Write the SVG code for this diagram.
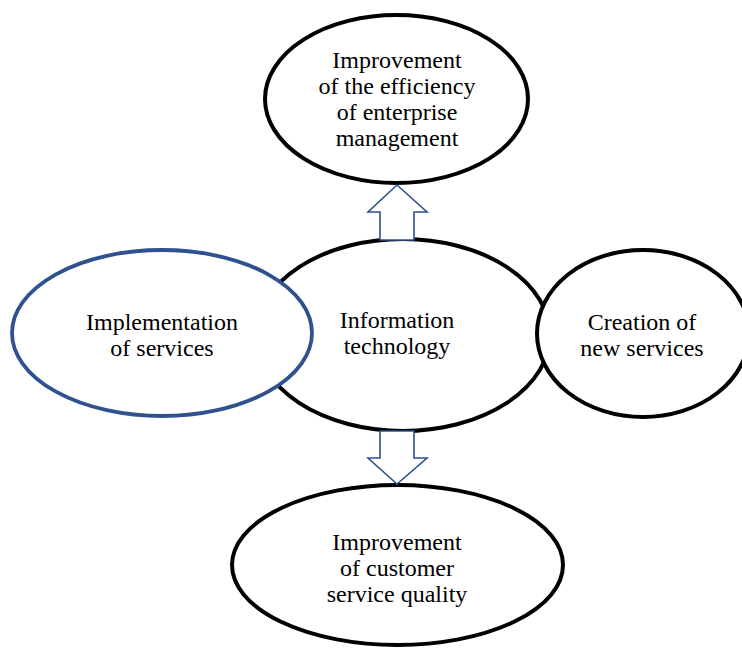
<svg xmlns="http://www.w3.org/2000/svg" width="742" height="649" viewBox="0 0 742 649">
  <style>
    .node { fill: #ffffff; stroke: #000000; stroke-width: 4; }
    .blue { fill: #ffffff; stroke: #2F528F; stroke-width: 3.8; }
    .arrow { fill: #ffffff; stroke: #2F528F; stroke-width: 1.6; stroke-linejoin: miter; }
    text { font-family: "Liberation Serif", "Times New Roman", serif; font-size: 24px; fill: #000000; text-anchor: middle; }
  </style>
  <rect x="0" y="0" width="742" height="649" fill="#ffffff"/>
  <g id="node-it">
    <ellipse class="node" cx="403" cy="335" rx="147" ry="96"/>
  </g>
  <g id="node-implementation">
    <ellipse class="blue" cx="162" cy="333" rx="150" ry="83"/>
    <text x="162" y="329.5">Implementation</text>
    <text x="162" y="355.5">of services</text>
  </g>
  <g id="node-creation">
    <ellipse class="node" cx="643" cy="333.5" rx="106" ry="83.5"/>
    <text x="642" y="329.5">Creation of</text>
    <text x="642" y="355.5">new services</text>
  </g>
  <g id="node-it-label">
    <text x="397" y="327.5">Information</text>
    <text x="397" y="353.5">technology</text>
  </g>
  <g id="node-efficiency">
    <ellipse class="node" cx="396.5" cy="99" rx="131.5" ry="84"/>
    <text x="397" y="67.5">Improvement</text>
    <text x="397" y="93.5">of the efficiency</text>
    <text x="397" y="119.5">of enterprise</text>
    <text x="397" y="145.5">management</text>
  </g>
  <g id="node-quality">
    <ellipse class="node" cx="397.5" cy="565" rx="165.5" ry="80"/>
    <text x="397" y="550">Improvement</text>
    <text x="397" y="576">of customer</text>
    <text x="397" y="602">service quality</text>
  </g>
  <g id="connectors">
    <polygon class="arrow" points="397,185 427,212 414,212 414,240 380,240 380,212 368,212"/>
    <polygon class="arrow" points="380,431 414,431 414,458 427,458 397,484 368,458 380,458"/>
  </g>
</svg>
